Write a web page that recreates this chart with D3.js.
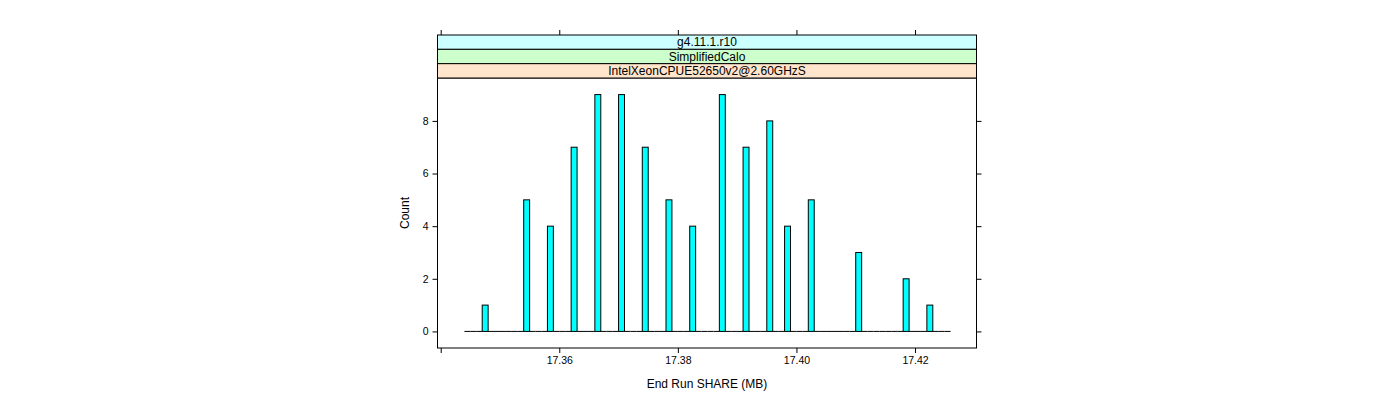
<!DOCTYPE html>
<html>
<head>
<meta charset="utf-8">
<script src="https://cdn.jsdelivr.net/npm/d3@7"></script>
<style>
  html, body { margin: 0; padding: 0; background: #fff; }
  svg { display: block; font-family: "Liberation Sans", Arial, Helvetica, sans-serif; }
</style>
</head>
<body>
<svg id="chart" width="1400" height="400"></svg>
<script>
// ---- data ----
const breakStart = 17.344;
const breakEnd = 17.426;
const binWidth = 0.001;
const binLefts = [17.347, 17.354, 17.358, 17.362, 17.366, 17.370, 17.374, 17.378, 17.382,
                  17.387, 17.391, 17.395, 17.398, 17.402, 17.410, 17.418, 17.422];
const counts   = [1, 5, 4, 7, 9, 9, 7, 5, 4, 9, 7, 8, 4, 5, 3, 2, 1];
const xTicks = [17.34, 17.36, 17.38, 17.40, 17.42];
const xTickLabels = ["", "17.36", "17.38", "17.40", "17.42"];
const yTicks = [0, 2, 4, 6, 8];
const yTickLabels = ["0", "2", "4", "6", "8"];
const stripLabels = ["g4.11.1.r10", "SimplifiedCalo", "IntelXeonCPUE52650v2@2.60GHzS"];
const stripColors = ["#ccffff", "#ccffcc", "#ffe5cc"];
const xTitle = "End Run SHARE (MB)";
const yTitle = "Count";

// ---- layout ----
const panel = { left: 437.5, right: 976.5, top: 78, bottom: 348 };
const stripTop = 35;
const stripH = (panel.top - stripTop) / stripLabels.length;

const svg = d3.select("#chart");

// full set of bins (zero-count bins render as a flat line)
const nBins = Math.round((breakEnd - breakStart) / binWidth);
const bins = d3.range(nBins).map(i => {
  const x0 = breakStart + i * binWidth;
  const idx = binLefts.findIndex(b => Math.abs(b - x0) < binWidth / 2);
  return { x0, x1: x0 + binWidth, count: idx >= 0 ? counts[idx] : 0 };
});

const maxCount = d3.max(counts);
const x = d3.scaleLinear()
  .domain([17.33946, 17.43037])
  .range([panel.left, panel.right]);
const y = d3.scaleLinear()
  .domain([-0.07 * maxCount, maxCount * 1.07])
  .range([panel.bottom, panel.top]);

// zero-count bins: collapsed rectangles drawn as a line
svg.append("g").selectAll("line")
  .data(bins.filter(d => d.count === 0))
  .join("line")
  .attr("x1", d => x(d.x0)).attr("x2", d => x(d.x1))
  .attr("y1", y(0)).attr("y2", y(0))
  .attr("stroke", "#000").attr("stroke-width", 1);

// bars
svg.append("g").selectAll("rect")
  .data(bins.filter(d => d.count > 0))
  .join("rect")
  .attr("x", d => x(d.x0))
  .attr("width", d => x(d.x1) - x(d.x0))
  .attr("y", d => y(d.count))
  .attr("height", d => y(0) - y(d.count))
  .attr("fill", "#00ffff")
  .attr("stroke", "#000")
  .attr("stroke-width", 1);

// panel box
svg.append("rect")
  .attr("x", panel.left).attr("y", panel.top)
  .attr("width", panel.right - panel.left)
  .attr("height", panel.bottom - panel.top)
  .attr("fill", "none").attr("stroke", "#000").attr("stroke-width", 1);

// strips
stripLabels.forEach((lab, i) => {
  const yy = stripTop + i * stripH;
  svg.append("rect")
    .attr("x", panel.left).attr("y", yy)
    .attr("width", panel.right - panel.left).attr("height", stripH)
    .attr("fill", stripColors[i]).attr("stroke", "#000").attr("stroke-width", 1);
  svg.append("text")
    .attr("x", (panel.left + panel.right) / 2)
    .attr("y", yy + stripH / 2)
    .attr("dy", "0.36em")
    .attr("text-anchor", "middle")
    .attr("font-size", 12)
    .text(lab);
});

// axes
const tickLen = 5;
const fmtX = (d, i) => xTickLabels[i];
const bottomAxis = d3.axisBottom(x).tickValues(xTicks).tickFormat(fmtX).tickSize(tickLen).tickSizeOuter(0).tickPadding(4);
const topAxis = d3.axisTop(x).tickValues(xTicks).tickFormat("").tickSize(tickLen).tickSizeOuter(0);
const leftAxis = d3.axisLeft(y).tickValues(yTicks).tickFormat((d, i) => yTickLabels[i]).tickSize(tickLen).tickSizeOuter(0).tickPadding(4);
const rightAxis = d3.axisRight(y).tickValues(yTicks).tickFormat("").tickSize(tickLen).tickSizeOuter(0);

function style(g) {
  g.select(".domain").remove();
  g.selectAll(".tick line").attr("stroke", "#000");
  g.selectAll(".tick text").attr("font-size", 10.5).attr("fill", "#000")
    .attr("font-family", "'Liberation Sans', Arial, sans-serif");
}
svg.append("g").attr("transform", `translate(0,${panel.bottom})`).call(bottomAxis).call(style);
svg.append("g").attr("transform", `translate(0,${stripTop})`).call(topAxis).call(style);
svg.append("g").attr("transform", `translate(${panel.left},0)`).call(leftAxis).call(style);
svg.append("g").attr("transform", `translate(${panel.right},0)`).call(rightAxis).call(style);

// titles
svg.append("text")
  .attr("x", (panel.left + panel.right) / 2)
  .attr("y", 388)
  .attr("text-anchor", "middle")
  .attr("font-size", 12)
  .text(xTitle);
svg.append("text")
  .attr("transform", `translate(409,${(panel.top + panel.bottom) / 2}) rotate(-90)`)
  .attr("text-anchor", "middle")
  .attr("font-size", 12)
  .text(yTitle);
</script>
</body>
</html>
